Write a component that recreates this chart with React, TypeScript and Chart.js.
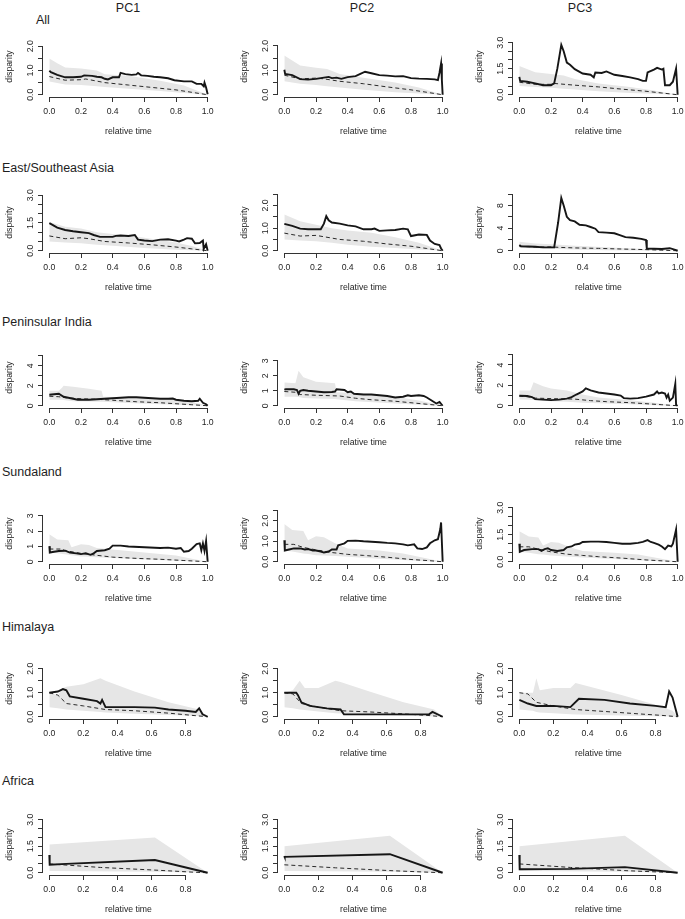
import React, { useEffect, useRef } from 'react';
import { Chart, registerables } from 'chart.js';
Chart.register(...registerables);

// ---------- titles & ticks ----------
const ROW_TITLES = ['All', 'East/Southeast Asia', 'Peninsular India', 'Sundaland', 'Himalaya', 'Africa'];
const COL_TITLES = ['PC1', 'PC2', 'PC3'];
const X_TITLE = 'relative time';
const Y_TITLE = 'disparity';

const X_MAX_BY_ROW = [1, 1, 1, 1, 0.93, 0.93];
const X_TICKS_FULL = [0, 0.2, 0.4, 0.6, 0.8, 1.0];
const X_TICKS_SHORT = [0, 0.2, 0.4, 0.6, 0.8];

const Y_TICKS_2 = [0, 0.5, 1, 1.5, 2];
const Y_LABELS_2 = ['0.0', '', '1.0', '', '2.0'];
const Y_TICKS_25 = [0, 0.5, 1, 1.5, 2, 2.5];
const Y_LABELS_25 = ['0.0', '', '1.0', '', '2.0', ''];
const Y_TICKS_3 = [0, 0.5, 1, 1.5, 2, 2.5, 3];
const Y_LABELS_3 = ['0.0', '', '', '1.5', '', '', '3.0'];
const Y_TICKS_3I = [0, 1, 2, 3];
const Y_LABELS_3I = ['0', '1', '2', '3'];
const Y_TICKS_5 = [0, 1, 2, 3, 4, 5];
const Y_LABELS_5 = ['0', '', '2', '', '4', ''];
const Y_TICKS_10 = [0, 2, 4, 6, 8, 10];
const Y_LABELS_10 = ['0', '', '4', '', '8', ''];

// y-limits (data range top) for each panel, row by row
const Y_LIMS = [
  2.33, 2.31, 3.25,
  3.05, 2.5, 10.0,
  5.65, 3.77, 5.54,
  3.69, 2.76, 3.14,
  2.35, 2.35, 2.35,
  3.2, 3.2, 3.2,
];

// ---------- data: observed [x, y], band [x, lower, upper], null model [x, y] ----------
const allPC1Obs = [[0,0.99],[0.01,0.93],[0.05,0.82],[0.1,0.72],[0.15,0.72],[0.2,0.74],[0.22,0.8],[0.27,0.78],[0.3,0.74],[0.33,0.72],[0.35,0.66],[0.37,0.63],[0.4,0.72],[0.44,0.72],[0.45,0.9],[0.48,0.85],[0.52,0.82],[0.55,0.84],[0.56,0.9],[0.58,0.8],[0.62,0.78],[0.66,0.74],[0.7,0.72],[0.75,0.68],[0.79,0.6],[0.85,0.55],[0.9,0.55],[0.93,0.45],[0.96,0.45],[0.975,0.35],[0.98,0.5],[0.99,0.3],[1,0.02]];
const allPC1Band = [[0,0.55,1.5],[0.05,0.48,1.3],[0.1,0.42,1.12],[0.2,0.4,1.08],[0.3,0.35,1.0],[0.35,0.32,0.85],[0.5,0.25,0.78],[0.7,0.15,0.58],[0.85,0.07,0.38],[1,0,0]];
const allPC1Null = [[0,0.75],[0.1,0.6],[0.2,0.62],[0.23,0.65],[0.35,0.5],[0.5,0.4],[0.65,0.3],[0.8,0.2],[0.9,0.1],[1,0]];

const allPC2Obs = [[0,1.02],[0.005,0.85],[0.05,0.8],[0.1,0.64],[0.15,0.62],[0.2,0.65],[0.25,0.7],[0.28,0.73],[0.3,0.68],[0.33,0.7],[0.36,0.65],[0.4,0.72],[0.45,0.76],[0.48,0.85],[0.51,0.94],[0.55,0.88],[0.6,0.8],[0.65,0.78],[0.7,0.75],[0.75,0.76],[0.8,0.68],[0.85,0.66],[0.9,0.65],[0.95,0.63],[0.97,0.6],[0.98,0.9],[0.99,1.28],[0.995,0.6],[1,0]];
const allPC2Band = [[0,0.55,1.6],[0.1,0.45,1.2],[0.2,0.4,1.1],[0.27,0.35,1.05],[0.35,0.3,0.85],[0.5,0.2,0.7],[0.7,0.1,0.5],[0.85,0.05,0.3],[1,0,0]];
const allPC2Null = [[0,0.8],[0.1,0.65],[0.2,0.68],[0.25,0.65],[0.35,0.55],[0.5,0.45],[0.65,0.32],[0.8,0.2],[0.9,0.1],[1,0]];

const allPC3Obs = [[0,1.03],[0.005,0.8],[0.05,0.75],[0.1,0.65],[0.15,0.55],[0.2,0.55],[0.22,0.65],[0.24,1.5],[0.265,2.87],[0.28,2.5],[0.3,1.85],[0.32,1.72],[0.35,1.47],[0.4,1.22],[0.45,1.15],[0.47,1.0],[0.48,1.28],[0.52,1.25],[0.55,1.34],[0.6,1.15],[0.65,1.08],[0.7,1.0],[0.75,0.9],[0.78,0.8],[0.8,0.8],[0.81,1.28],[0.85,1.45],[0.87,1.55],[0.9,1.45],[0.91,1.5],[0.92,0.55],[0.95,0.55],[0.97,0.75],[0.99,1.5],[1,0]];
const allPC3Band = [[0,0.5,1.65],[0.1,0.45,1.3],[0.2,0.4,1.2],[0.28,0.35,1.1],[0.35,0.3,0.9],[0.5,0.2,0.65],[0.7,0.1,0.45],[0.85,0.05,0.25],[1,0,0]];
const allPC3Null = [[0,0.72],[0.1,0.6],[0.2,0.6],[0.22,0.65],[0.35,0.55],[0.5,0.45],[0.65,0.32],[0.8,0.2],[0.9,0.1],[1,0]];

const esPC1Obs = [[0,1.49],[0.02,1.4],[0.05,1.25],[0.1,1.12],[0.15,1.05],[0.2,1.0],[0.25,0.95],[0.28,0.85],[0.32,0.75],[0.4,0.75],[0.42,0.8],[0.45,0.82],[0.5,0.8],[0.54,0.85],[0.56,0.6],[0.6,0.55],[0.65,0.52],[0.7,0.6],[0.75,0.62],[0.8,0.55],[0.82,0.5],[0.85,0.6],[0.87,0.68],[0.9,0.65],[0.92,0.4],[0.95,0.42],[0.97,0.55],[0.975,0.1],[0.99,0.35],[1,0]];
const esPC1Band = [[0,0.5,1.55],[0.1,0.45,1.3],[0.2,0.4,1.2],[0.3,0.32,1.0],[0.4,0.27,0.9],[0.6,0.15,0.7],[0.8,0.06,0.45],[0.9,0.03,0.25],[1,0,0]];
const esPC1Null = [[0,0.8],[0.1,0.65],[0.2,0.7],[0.25,0.65],[0.35,0.5],[0.5,0.42],[0.65,0.32],[0.8,0.2],[0.9,0.1],[1,0]];

const esPC2Obs = [[0,1.19],[0.05,1.1],[0.1,0.98],[0.15,0.95],[0.2,0.95],[0.23,0.95],[0.25,1.2],[0.265,1.53],[0.28,1.35],[0.3,1.25],[0.35,1.2],[0.4,1.12],[0.45,1.08],[0.5,0.95],[0.55,0.95],[0.57,0.98],[0.6,0.88],[0.65,0.9],[0.7,0.92],[0.75,0.98],[0.78,0.95],[0.8,0.65],[0.85,0.72],[0.9,0.7],[0.92,0.45],[0.95,0.3],[0.98,0.25],[0.99,0.1],[1,0]];
const esPC2Band = [[0,0.5,1.6],[0.1,0.45,1.3],[0.2,0.42,1.15],[0.3,0.35,1.0],[0.4,0.27,0.9],[0.55,0.18,0.8],[0.7,0.12,0.6],[0.85,0.05,0.35],[1,0,0]];
const esPC2Null = [[0,0.78],[0.1,0.65],[0.2,0.68],[0.25,0.62],[0.35,0.5],[0.5,0.42],[0.65,0.3],[0.8,0.2],[0.9,0.1],[1,0]];

const esPC3Obs = [[0,1.0],[0.01,0.8],[0.1,0.7],[0.15,0.6],[0.22,0.6],[0.245,5.0],[0.265,9.35],[0.28,8.0],[0.3,6.0],[0.32,5.4],[0.35,5.2],[0.38,4.6],[0.42,4.5],[0.45,4.2],[0.48,3.9],[0.5,3.3],[0.55,3.2],[0.6,3.1],[0.63,2.8],[0.67,2.4],[0.72,2.3],[0.77,2.1],[0.8,1.9],[0.805,0.4],[0.85,0.35],[0.9,0.3],[0.95,0.45],[0.98,0.2],[1,0]];
const esPC3Band = [[0,0.5,1.6],[0.1,0.45,1.3],[0.2,0.35,1.15],[0.35,0.2,0.9],[0.55,0.1,0.6],[0.75,0.05,0.35],[0.9,0.02,0.15],[1,0,0]];
const esPC3Null = [[0,0.8],[0.1,0.65],[0.2,0.68],[0.25,0.6],[0.35,0.5],[0.5,0.42],[0.65,0.3],[0.8,0.2],[0.9,0.1],[1,0]];

const piPC1Obs = [[0,1.1],[0.03,1.15],[0.06,1.2],[0.09,0.9],[0.12,0.8],[0.15,0.7],[0.18,0.6],[0.25,0.6],[0.3,0.65],[0.35,0.7],[0.4,0.75],[0.45,0.8],[0.5,0.85],[0.55,0.85],[0.6,0.8],[0.65,0.75],[0.7,0.7],[0.75,0.7],[0.78,0.72],[0.8,0.6],[0.85,0.5],[0.9,0.45],[0.94,0.5],[0.95,0.7],[0.97,0.3],[0.99,0.15],[1,0]];
const piPC1Band = [[0,0.6,1.5],[0.06,0.6,1.5],[0.08,0.6,1.8],[0.09,0.58,2.0],[0.15,0.45,1.9],[0.25,0.42,1.7],[0.33,0.4,1.5],[0.34,0.39,0.9],[0.5,0.28,0.85],[0.7,0.15,0.75],[0.85,0.07,0.5],[0.95,0.02,0.2],[1,0,0]];
const piPC1Null = [[0,0.95],[0.06,0.9],[0.1,0.8],[0.2,0.7],[0.3,0.65],[0.4,0.55],[0.55,0.4],[0.7,0.3],[0.8,0.2],[0.9,0.1],[1,0]];

const piPC2Obs = [[0,1.07],[0.01,1.1],[0.06,1.1],[0.08,1.05],[0.09,0.8],[0.1,1.0],[0.12,1.05],[0.15,1.0],[0.2,0.95],[0.25,0.9],[0.3,0.92],[0.32,0.95],[0.33,1.1],[0.38,1.05],[0.4,0.9],[0.42,0.95],[0.44,0.8],[0.5,0.75],[0.55,0.75],[0.6,0.7],[0.65,0.65],[0.7,0.55],[0.75,0.6],[0.78,0.7],[0.8,0.65],[0.85,0.7],[0.88,0.65],[0.9,0.55],[0.93,0.35],[0.96,0.15],[0.98,0.25],[1,0]];
const piPC2Band = [[0,0.6,1.55],[0.07,0.6,1.5],[0.09,0.58,2.33],[0.12,0.52,1.9],[0.2,0.48,1.6],[0.32,0.45,1.5],[0.33,0.44,0.9],[0.45,0.3,0.85],[0.7,0.15,0.6],[0.85,0.07,0.35],[1,0,0]];
const piPC2Null = [[0,0.95],[0.07,0.9],[0.1,0.75],[0.2,0.7],[0.35,0.65],[0.45,0.5],[0.55,0.4],[0.7,0.3],[0.8,0.2],[0.9,0.1],[1,0]];

const piPC3Obs = [[0,0.98],[0.05,0.95],[0.08,0.85],[0.1,0.65],[0.15,0.6],[0.2,0.55],[0.25,0.6],[0.3,0.7],[0.33,0.85],[0.36,1.1],[0.4,1.4],[0.42,1.7],[0.45,1.5],[0.5,1.3],[0.55,1.2],[0.6,1.1],[0.64,1.0],[0.66,0.75],[0.7,0.7],[0.75,0.75],[0.8,0.9],[0.85,1.1],[0.87,1.4],[0.88,1.2],[0.9,1.3],[0.92,1.2],[0.93,0.8],[0.94,1.1],[0.95,0.5],[0.97,0.8],[0.985,2.15],[0.99,0.1],[1,0]];
const piPC3Band = [[0,0.6,1.5],[0.07,0.58,1.5],[0.09,0.56,2.3],[0.15,0.48,1.9],[0.2,0.45,1.7],[0.3,0.38,1.5],[0.4,0.3,1.1],[0.5,0.25,0.8],[0.7,0.15,0.55],[0.85,0.05,0.3],[1,0,0]];
const piPC3Null = [[0,0.95],[0.07,0.85],[0.1,0.75],[0.2,0.7],[0.35,0.65],[0.45,0.5],[0.55,0.4],[0.7,0.3],[0.8,0.2],[0.9,0.1],[1,0]];

const suPC1Obs = [[0,1.02],[0.003,0.6],[0.03,0.65],[0.06,0.7],[0.1,0.72],[0.13,0.6],[0.17,0.55],[0.2,0.5],[0.23,0.55],[0.26,0.45],[0.28,0.55],[0.3,0.7],[0.35,0.75],[0.38,0.85],[0.4,1.05],[0.45,1.05],[0.5,1.0],[0.6,0.95],[0.7,0.9],[0.75,0.92],[0.8,0.85],[0.83,0.9],[0.85,0.65],[0.88,0.7],[0.9,0.85],[0.93,1.15],[0.95,1.2],[0.96,0.75],[0.97,1.2],[0.98,0.7],[0.99,1.35],[1,0]];
const suPC1Band = [[0,0.6,1.8],[0.05,0.55,1.45],[0.12,0.45,1.4],[0.14,0.42,0.95],[0.2,0.35,1.15],[0.25,0.33,1.1],[0.3,0.3,0.9],[0.4,0.25,0.8],[0.6,0.15,0.6],[0.8,0.07,0.4],[0.9,0.03,0.2],[1,0,0]];
const suPC1Null = [[0,0.83],[0.08,0.83],[0.1,0.72],[0.2,0.55],[0.3,0.42],[0.4,0.3],[0.55,0.22],[0.7,0.16],[0.85,0.08],[1,0]];

const suPC2Obs = [[0,1.05],[0.003,0.55],[0.03,0.6],[0.06,0.65],[0.1,0.65],[0.13,0.6],[0.15,0.62],[0.18,0.55],[0.2,0.55],[0.23,0.5],[0.25,0.45],[0.28,0.5],[0.3,0.6],[0.33,0.6],[0.34,0.8],[0.36,0.85],[0.38,0.9],[0.4,1.02],[0.45,1.03],[0.5,1.0],[0.55,0.98],[0.6,0.95],[0.65,0.92],[0.7,0.9],[0.75,0.85],[0.78,0.8],[0.82,0.85],[0.84,0.65],[0.87,0.62],[0.9,0.7],[0.92,0.9],[0.95,1.05],[0.97,1.1],[0.985,1.6],[0.99,1.92],[1,0]];
const suPC2Band = [[0,0.55,1.85],[0.05,0.5,1.55],[0.12,0.4,1.5],[0.15,0.38,1.05],[0.2,0.32,1.25],[0.25,0.3,1.2],[0.32,0.28,0.9],[0.4,0.24,0.65],[0.6,0.15,0.55],[0.75,0.08,0.4],[0.88,0.03,0.2],[1,0,0]];
const suPC2Null = [[0,0.85],[0.06,0.85],[0.12,0.7],[0.2,0.58],[0.3,0.45],[0.4,0.36],[0.5,0.31],[0.65,0.22],[0.8,0.11],[0.92,0.05],[1,0]];

const suPC3Obs = [[0,1.0],[0.003,0.55],[0.03,0.65],[0.08,0.7],[0.12,0.7],[0.14,0.6],[0.16,0.7],[0.18,0.75],[0.2,0.65],[0.24,0.6],[0.28,0.65],[0.3,0.8],[0.33,0.85],[0.35,0.95],[0.38,1.0],[0.4,1.1],[0.45,1.12],[0.5,1.12],[0.55,1.1],[0.6,1.05],[0.65,1.0],[0.7,1.0],[0.75,1.05],[0.78,1.1],[0.81,1.2],[0.83,1.1],[0.85,1.05],[0.88,0.95],[0.9,0.85],[0.92,0.7],[0.94,0.9],[0.96,0.85],[0.97,1.0],[0.99,1.79],[1,0]];
const suPC3Band = [[0,0.55,1.7],[0.06,0.5,1.4],[0.12,0.42,1.35],[0.15,0.4,0.9],[0.2,0.35,1.1],[0.25,0.32,1.05],[0.32,0.28,0.8],[0.4,0.24,0.6],[0.6,0.15,0.5],[0.75,0.08,0.4],[0.88,0.03,0.2],[1,0,0]];
const suPC3Null = [[0,0.83],[0.06,0.83],[0.12,0.7],[0.2,0.55],[0.3,0.42],[0.4,0.35],[0.5,0.28],[0.65,0.2],[0.8,0.1],[0.92,0.04],[1,0]];

const hiPC1Obs = [[0,1.0],[0.05,1.05],[0.08,1.15],[0.1,1.1],[0.12,0.85],[0.2,0.75],[0.28,0.65],[0.3,0.55],[0.31,0.7],[0.33,0.4],[0.5,0.4],[0.62,0.38],[0.7,0.3],[0.8,0.25],[0.86,0.2],[0.88,0.35],[0.9,0.1],[0.93,0]];
const hiPC1Band = [[0,0.4,1.0],[0.05,0.35,0.9],[0.08,0.32,1.2],[0.1,0.3,1.25],[0.2,0.25,1.35],[0.3,0.2,1.6],[0.33,0.18,1.5],[0.5,0.12,1.05],[0.7,0.07,0.6],[0.88,0.03,0.3],[0.93,0,0]];
const hiPC1Null = [[0,1.0],[0.05,0.9],[0.1,0.55],[0.2,0.45],[0.33,0.3],[0.5,0.25],[0.7,0.15],[0.85,0.05],[0.93,0]];

const hiPC2Obs = [[0,1.0],[0.07,1.0],[0.08,0.9],[0.1,0.6],[0.15,0.45],[0.25,0.35],[0.33,0.3],[0.35,0.1],[0.6,0.1],[0.85,0.1],[0.87,0.2],[0.93,0]];
const hiPC2Band = [[0,0.4,1.0],[0.05,0.35,1.1],[0.09,0.3,1.5],[0.12,0.28,1.2],[0.2,0.22,1.2],[0.3,0.15,1.5],[0.33,0.13,1.45],[0.5,0.08,1.05],[0.7,0.04,0.6],[0.88,0.01,0.3],[0.93,0,0]];
const hiPC2Null = [[0,1.0],[0.05,0.95],[0.1,0.55],[0.2,0.4],[0.33,0.25],[0.5,0.2],[0.7,0.12],[0.85,0.05],[0.93,0]];

const hiPC3Obs = [[0,0.7],[0.05,0.55],[0.1,0.45],[0.2,0.45],[0.3,0.4],[0.35,0.75],[0.5,0.7],[0.65,0.55],[0.8,0.45],[0.86,0.4],[0.88,1.05],[0.9,0.8],[0.93,0]];
const hiPC3Band = [[0,0.3,1.0],[0.08,0.25,1.0],[0.1,0.2,1.6],[0.12,0.18,1.1],[0.2,0.15,1.2],[0.3,0.1,1.2],[0.33,0.09,1.4],[0.6,0.05,0.9],[0.8,0.02,0.5],[0.9,0.01,0.25],[0.93,0,0]];
const hiPC3Null = [[0,1.0],[0.05,0.95],[0.1,0.6],[0.2,0.45],[0.33,0.3],[0.5,0.22],[0.7,0.12],[0.85,0.05],[0.93,0]];

const afPC1Obs = [[0,1.0],[0.002,0.45],[0.1,0.5],[0.62,0.72],[0.93,0]];
const afPC1Band = [[0,0.1,1.6],[0.62,0.05,2.0],[0.93,0,0]];
const afPC1Null = [[0,0.5],[0.3,0.3],[0.62,0.15],[0.85,0.03],[0.93,0]];

const afPC2Obs = [[0,0.95],[0.002,0.9],[0.62,1.05],[0.93,0]];
const afPC2Band = [[0,0.1,1.5],[0.62,0.05,2.1],[0.93,0,0]];
const afPC2Null = [[0,0.45],[0.3,0.28],[0.62,0.12],[0.85,0.03],[0.93,0]];

const afPC3Obs = [[0,1.0],[0.002,0.2],[0.3,0.22],[0.62,0.32],[0.93,0]];
const afPC3Band = [[0,0.1,1.5],[0.62,0.05,2.1],[0.93,0,0]];
const afPC3Null = [[0,0.5],[0.3,0.3],[0.62,0.12],[0.85,0.03],[0.93,0]];

const OBS = [allPC1Obs, allPC2Obs, allPC3Obs, esPC1Obs, esPC2Obs, esPC3Obs, piPC1Obs, piPC2Obs, piPC3Obs, suPC1Obs, suPC2Obs, suPC3Obs, hiPC1Obs, hiPC2Obs, hiPC3Obs, afPC1Obs, afPC2Obs, afPC3Obs];
const BANDS = [allPC1Band, allPC2Band, allPC3Band, esPC1Band, esPC2Band, esPC3Band, piPC1Band, piPC2Band, piPC3Band, suPC1Band, suPC2Band, suPC3Band, hiPC1Band, hiPC2Band, hiPC3Band, afPC1Band, afPC2Band, afPC3Band];
const NULLS = [allPC1Null, allPC2Null, allPC3Null, esPC1Null, esPC2Null, esPC3Null, piPC1Null, piPC2Null, piPC3Null, suPC1Null, suPC2Null, suPC3Null, hiPC1Null, hiPC2Null, hiPC3Null, afPC1Null, afPC2Null, afPC3Null];
const Y_TICK_SETS = [
  [Y_TICKS_2, Y_LABELS_2], [Y_TICKS_2, Y_LABELS_2], [Y_TICKS_3, Y_LABELS_3],
  [Y_TICKS_3, Y_LABELS_3], [Y_TICKS_25, Y_LABELS_25], [Y_TICKS_10, Y_LABELS_10],
  [Y_TICKS_5, Y_LABELS_5], [Y_TICKS_3I, Y_LABELS_3I], [Y_TICKS_5, Y_LABELS_5],
  [Y_TICKS_3I, Y_LABELS_3I], [Y_TICKS_25, Y_LABELS_25], [Y_TICKS_3, Y_LABELS_3],
  [Y_TICKS_2, Y_LABELS_2], [Y_TICKS_2, Y_LABELS_2], [Y_TICKS_2, Y_LABELS_2],
  [Y_TICKS_3, Y_LABELS_3], [Y_TICKS_3, Y_LABELS_3], [Y_TICKS_3, Y_LABELS_3],
];

// ---------- layout / style ----------
const FONT = '"Liberation Sans", Arial, Helvetica, sans-serif';
const FS = 8.7;
const TITLE_FS = 12.5;
const INK = '#1e1e1e';
const AXIS_COLOR = '#333333';
const BAND_COLOR = '#e6e6e6';
const COL_LEFT = [1, 236, 471];
const CANVAS_W = 236;
const PLOT_LEFT = 42;
const PLOT_W = 171;
const PLOT_H = 61;
const PAD_TOP = 12;
const AXIS_H = 51;
const TICK_LEN = 5;
const rowBottom = (r: number) => Math.round(97 + 155.5 * r);
const COL_TITLE_X = [128, 362, 580];
const ROW_TITLE_POS = [[36, 20], [2, 168], [2, 322], [2, 472], [2, 627], [2, 781]];

const rAxisPlugin = {
  id: 'rAxis',
  afterDraw(chart: any) {
    const { ctx, chartArea, scales } = chart;
    const xs = scales.x, ys = scales.y;
    const xt = xs.ticks, yt = ys.ticks;
    ctx.save();
    ctx.strokeStyle = AXIS_COLOR;
    ctx.lineWidth = 1;
    ctx.beginPath();
    const by = Math.round(chartArea.bottom) + 0.5;
    ctx.moveTo(xs.getPixelForValue(xt[0].value), by);
    ctx.lineTo(xs.getPixelForValue(xt[xt.length - 1].value), by);
    const lx = Math.round(chartArea.left) - 0.5;
    ctx.moveTo(lx, ys.getPixelForValue(yt[0].value));
    ctx.lineTo(lx, ys.getPixelForValue(yt[yt.length - 1].value));
    ctx.stroke();
    ctx.restore();
  },
};

function measure(labels: string[]) {
  const c = document.createElement('canvas').getContext('2d')!;
  c.font = `${FS}px ${FONT}`;
  return Math.max(...labels.map((l) => c.measureText(l).width));
}

function Panel({ idx }: { idx: number }) {
  const ref = useRef<HTMLCanvasElement>(null);
  const r = Math.floor(idx / 3);
  const c = idx % 3;
  const top = rowBottom(r) - PLOT_H - PAD_TOP;
  const height = PAD_TOP + PLOT_H + AXIS_H;

  useEffect(() => {
    const xMax = X_MAX_BY_ROW[r];
    const xTicks = xMax < 1 ? X_TICKS_SHORT : X_TICKS_FULL;
    const yLim = Y_LIMS[idx];
    const [yTicks, yLabels] = Y_TICK_SETS[idx];
    const widest = measure(yLabels as string[]);
    const yPad = 7 - widest / 2;
    const band = BANDS[idx];
    const tickFont = { family: FONT, size: FS };

    const chart = new Chart(ref.current!, {
      type: 'line',
      data: {
        datasets: [
          { data: OBS[idx].map(([x, y]) => ({ x, y })), borderColor: '#161616', borderWidth: 1.9, pointRadius: 0, fill: false, order: 0 } as any,
          { data: NULLS[idx].map(([x, y]) => ({ x, y })), borderColor: '#2a2a2a', borderWidth: 1, borderDash: [4, 3], pointRadius: 0, fill: false, order: 1 } as any,
          { data: band.map(([x, lo]) => ({ x, y: lo })), borderWidth: 0, borderColor: 'rgba(0,0,0,0)', pointRadius: 0, fill: false, order: 3 } as any,
          { data: band.map(([x, , hi]) => ({ x, y: hi })), borderWidth: 0, borderColor: 'rgba(0,0,0,0)', backgroundColor: BAND_COLOR, pointRadius: 0, fill: '-1', order: 2 } as any,
        ],
      },
      options: {
        responsive: false,
        animation: false,
        maintainAspectRatio: false,
        layout: { padding: { left: 0, top: PAD_TOP, right: CANVAS_W - PLOT_LEFT - PLOT_W, bottom: 0 } },
        plugins: { legend: { display: false }, tooltip: { enabled: false } },
        elements: { line: { tension: 0 } },
        scales: {
          x: {
            type: 'linear',
            min: -0.04 * xMax,
            max: 1.04 * xMax,
            afterBuildTicks: (s: any) => { s.ticks = xTicks.map((v) => ({ value: v })); },
            afterFit: (s: any) => { s.height = AXIS_H; },
            ticks: {
              autoSkip: false, maxRotation: 0, minRotation: 0, padding: 4, color: INK, font: tickFont,
              callback: (v: any) => Number(v).toFixed(1),
            },
            grid: { display: true, drawOnChartArea: false, drawTicks: true, tickLength: TICK_LEN, color: AXIS_COLOR, lineWidth: 1 },
            border: { display: false },
            title: { display: true, text: X_TITLE, color: INK, font: { family: FONT, size: FS }, padding: { top: 0, bottom: 11 } },
          },
          y: {
            type: 'linear',
            min: -0.04 * yLim,
            max: 1.04 * yLim,
            afterBuildTicks: (s: any) => { s.ticks = (yTicks as number[]).map((v) => ({ value: v })); },
            afterFit: (s: any) => { s.width = PLOT_LEFT; },
            ticks: {
              autoSkip: false, minRotation: 90, maxRotation: 90, crossAlign: 'center', padding: yPad, color: INK, font: tickFont,
              callback: (v: any) => {
                const i = (yTicks as number[]).findIndex((t) => Math.abs(t - Number(v)) < 1e-9);
                return i >= 0 ? (yLabels as string[])[i] : '';
              },
            },
            grid: { display: true, drawOnChartArea: false, drawTicks: true, tickLength: TICK_LEN, color: AXIS_COLOR, lineWidth: 1 },
            border: { display: false },
            title: { display: true, text: Y_TITLE, color: INK, font: { family: FONT, size: FS }, padding: { top: 3, bottom: 0 } },
          },
        },
      } as any,
      plugins: [rAxisPlugin],
    });
    return () => chart.destroy();
  }, []);

  return (
    <canvas
      ref={ref}
      width={CANVAS_W}
      height={height}
      style={{ position: 'absolute', left: COL_LEFT[c], top, width: CANVAS_W, height }}
    />
  );
}

export default function App() {
  const idxs = Array.from({ length: 18 }, (_, i) => i);
  return (
    <div style={{ position: 'fixed', left: 0, top: 0, width: 685, height: 919, overflow: 'hidden', background: '#ffffff', fontFamily: FONT }}>
      {COL_TITLES.map((t, i) => (
        <div key={t} style={{ position: 'absolute', left: COL_TITLE_X[i] - 40, width: 80, top: 1, lineHeight: '14px', textAlign: 'center', fontSize: TITLE_FS, color: INK }}>{t}</div>
      ))}
      {ROW_TITLES.map((t, i) => (
        <div key={t} style={{ position: 'absolute', left: ROW_TITLE_POS[i][0], top: ROW_TITLE_POS[i][1] - 7, lineHeight: '14px', fontSize: TITLE_FS, color: INK, whiteSpace: 'nowrap' }}>{t}</div>
      ))}
      {idxs.map((i) => <Panel key={i} idx={i} />)}
    </div>
  );
}
